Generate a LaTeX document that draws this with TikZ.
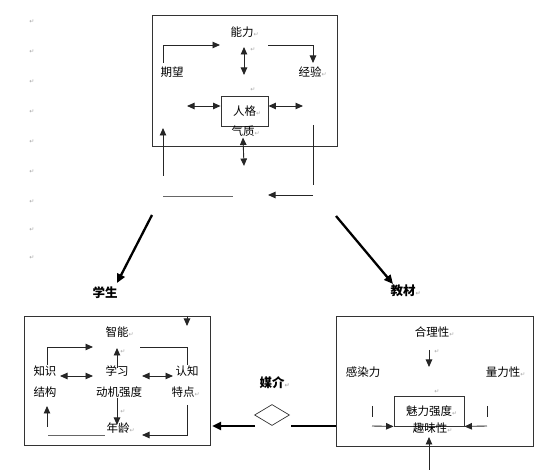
\documentclass[tikz,border=0pt]{standalone}
\usepackage{fontspec}
\setmainfont{Noto Sans CJK SC}
\newfontfamily\symfont{DejaVu Sans}
\usepackage{xcolor}
\usepackage{tikz}
\usetikzlibrary{positioning,arrows.meta,shapes.geometric}

\newcommand{\ret}{\rlap{\symfont\fontsize{6}{6}\selectfont\color{black!35}↵}}

\begin{document}
\begin{tikzpicture}[x=1pt, y=-1pt,
  lbl/.style={font=\fontsize{11.5}{12}\selectfont, inner sep=1pt},
  head/.style={font=\fontsize{12.5}{13}\selectfont\bfseries, inner sep=1pt},
  retmark/.style={font=\symfont\fontsize{6}{6}\selectfont, text=black!35, inner sep=0pt},
  frame/.style={draw=black!80, line width=0.9pt, inner sep=0pt},
  ln/.style={draw=black!85, line width=0.9pt},
  arr/.style={ln, -{Triangle[length=7.5pt, width=6.5pt]}},
  darr/.style={ln, {Triangle[length=7.5pt, width=6.5pt]}-{Triangle[length=7.5pt, width=6.5pt]}},
  bigarr/.style={line width=2.3pt, -{Triangle[length=9pt, width=8pt]}}]
  \useasboundingbox (0,0) rectangle (536,470);

  % paragraph marks down the left margin
  \foreach \y [count=\i] in {22,52,82,112,142,172,202,230,258}
    \node[retmark] (pm\i) at (32,\y) {↵};

  % ---- top: teacher ----
  \node[frame, minimum width=185pt, minimum height=131pt] (topbox) at (244.5,80.5) {};
  \node[lbl] (nengli) at (242,32) {能力\ret};
  \node[lbl] (qiwang) at (172,72) {期望};
  \node[lbl] (jingyan) at (310,72) {经验\ret};
  \node[frame, minimum width=47pt, minimum height=30pt] (renge) at (244.5,111) {};
  \node[lbl] (rengeT) at (244.5,111) {人格\ret};
  \node[lbl] (qizhi) at (243,131) {气质\ret};
  \node[retmark] (pmA) at (253,50) {↵};
  \node[retmark] (pmB) at (253,90) {↵};

  \coordinate (qwTop) at (163,63);
  \coordinate (nlIn) at (220,45);
  \coordinate (nlOut) at (268,45);
  \coordinate (jyIn) at (313,63);
  \coordinate (nlUp) at (244,47);
  \coordinate (nlDn) at (244,75);
  \coordinate (rgL) at (187,106);
  \coordinate (rgR) at (303,106);
  \coordinate (qzDn) at (244,166);
  \coordinate (backL) at (163,176);
  \coordinate (backLtip) at (163,128);
  \coordinate (backR) at (313,125);
  \coordinate (backRend) at (313,185);
  \coordinate (botR) at (313,195);
  \coordinate (botRtip) at (268,195);
  \coordinate (botL) at (163,196);
  \coordinate (botLend) at (233,196);

  \draw[arr] (qwTop) |- (nlIn);
  \draw[arr] (nlOut) -| (jyIn);
  \draw[darr] (nlUp) -- (nlDn);
  \draw[darr] (rgL) -- ([yshift=5pt]renge.west);
  \draw[darr] ([yshift=5pt]renge.east) -- (rgR);
  \draw[darr] (qizhi.south) -- (qzDn);
  \draw[arr] (backL) -- (backLtip);
  \draw[ln] (backR) -- (backRend);
  \draw[arr] (botR) -- (botRtip);
  \draw[ln, draw=black!60] (botL) -- (botLend);

  % ---- the two branches ----
  \coordinate (brL) at (152,215);
  \coordinate (brR) at (336,216);
  \node[head] (xuesheng) at (105,293) {学生};
  \node[head] (jiaocai) at (403,291) {教材\ret};
  \draw[bigarr] (brL) -- (117,283);
  \draw[bigarr] (brR) -- (393,284);

  % ---- bottom left: student ----
  \node[frame, minimum width=186pt, minimum height=129pt] (stubox) at (117,380.5) {};
  \node[lbl] (zhineng) at (117,332) {智能\ret};
  \node[lbl] (zhishi) at (45,371) {知识};
  \node[lbl] (xuexi) at (117,371) {学习};
  \node[lbl] (renzhi) at (187,371) {认知};
  \node[lbl] (jiegou) at (45,392) {结构};
  \node[lbl] (dongji) at (119,392) {动机强度};
  \node[lbl] (tedian) at (183,392) {特点\ret};
  \node[lbl] (nianling) at (118,428) {年龄\ret};
  \node[retmark] (pmC) at (123,352) {↵};
  \node[retmark] (pmD) at (123,412) {↵};

  \coordinate (topIn) at (187,316);
  \coordinate (topInTip) at (187,326);
  \coordinate (zsUp) at (47,365);
  \coordinate (znIn) at (93,347);
  \coordinate (znOut) at (140,347);
  \coordinate (rzUp) at (187,365);
  \coordinate (xxUp) at (117,368);
  \coordinate (znDn) at (117,348);
  \coordinate (zsR) at (60,376);
  \coordinate (xxL) at (93,376);
  \coordinate (xxR) at (142,376);
  \coordinate (rzL) at (173,376);
  \coordinate (djDn) at (117,398);
  \coordinate (nlTip) at (117,425);
  \coordinate (jgLow) at (47,427);
  \coordinate (jgTip) at (47,406);
  \coordinate (baseL) at (48,435);
  \coordinate (baseM) at (105,435);
  \coordinate (tdLow) at (187,405);
  \coordinate (nlR) at (142,435);

  \draw[arr] (topIn) -- (topInTip);
  \draw[arr] (zsUp) |- (znIn);
  \draw[ln] (znOut) -| (rzUp);
  \draw[arr] (xxUp) -- (znDn);
  \draw[darr] (zsR) -- (xxL);
  \draw[darr] (xxR) -- (rzL);
  \draw[arr] (djDn) -- (nlTip);
  \draw[arr] (jgLow) -- (jgTip);
  \draw[ln, draw=black!60] (baseL) -- (baseM);
  \draw[arr] (tdLow) |- (nlR);

  % ---- medium ----
  \node[head] (meijie) at (272,383) {媒介\ret};
  \node[diamond, draw=black!80, line width=0.7pt, minimum width=35pt, minimum height=21pt, inner sep=0pt] (dia) at (272,415) {};
  \coordinate (diaL) at (255,426);
  \coordinate (stuIn) at (212,426);
  \coordinate (diaR) at (291,426);
  \coordinate (txtIn) at (336,426);
  \draw[bigarr] (diaL) -- (stuIn);
  \draw[line width=2.3pt] (diaR) -- (txtIn);

  % ---- bottom right: textbook ----
  \node[frame, minimum width=197pt, minimum height=130pt] (txtbox) at (434.5,381) {};
  \node[lbl] (heli) at (432,332) {合理性\ret};
  \node[lbl] (ganran) at (363,372) {感染力};
  \node[lbl] (liangli) at (503,372) {量力性\ret};
  \node[frame, minimum width=70pt, minimum height=30pt] (meili) at (429,411) {};
  \node[lbl] (meiliT) at (429,411) {魅力强度\ret};
  \node[lbl] (quwei) at (430,428) {趣味性\ret};
  \node[retmark] (pmE) at (437,352) {↵};
  \node[retmark] (pmF) at (437,392) {↵};

  \coordinate (hlDn) at (429,350);
  \coordinate (hlTip) at (429,367);
  \coordinate (tickLa) at (372,406);
  \coordinate (tickLb) at (372,417);
  \coordinate (tickRa) at (487,406);
  \coordinate (tickRb) at (487,417);
  \coordinate (inL) at (372,426);
  \coordinate (inR) at (487,426);
  \coordinate (qwLow) at (429,470);
  \coordinate (qwTip) at (429,437);

  \draw[arr] (hlDn) -- (hlTip);
  \draw[ln] (tickLa) -- (tickLb);
  \draw[ln] (tickRa) -- (tickRb);
  \draw[arr] (inL) -- (meili.south west);
  \draw[arr] (inR) -- (meili.south east);
  \draw[arr] (qwLow) -- (qwTip);
\end{tikzpicture}
\end{document}
